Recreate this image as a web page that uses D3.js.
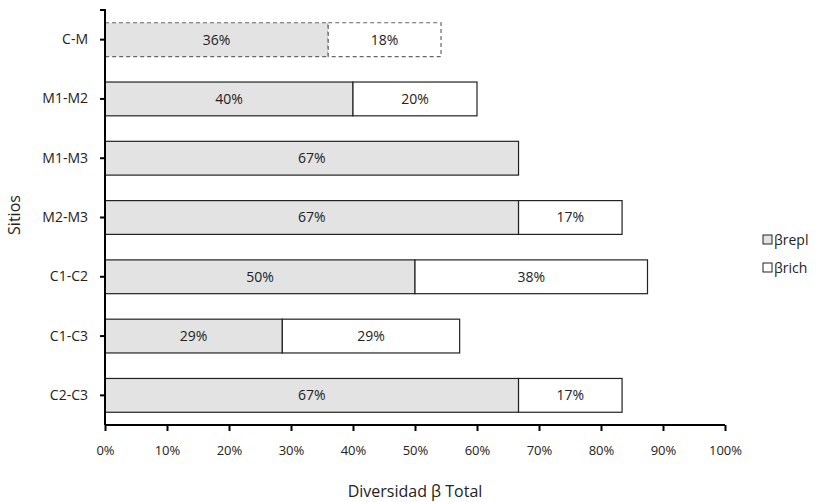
<!DOCTYPE html>
<html>
<head>
<meta charset="utf-8">
<script src="https://cdn.jsdelivr.net/npm/d3@7"></script>
<style>
  body { margin: 0; background: #fff; }
  text { font-family: "Open Sans", "Noto Sans", sans-serif; fill: #222; }
</style>
</head>
<body>
<script>
var WIDTH = 829;
var HEIGHT = 502;

// data
var sitios = ["C-M", "M1-M2", "M1-M3", "M2-M3", "C1-C2", "C1-C3", "C2-C3"];
var repl = [36, 40, 66.7, 66.7, 50, 28.6, 66.7];
var rich = [18.2, 20, 0, 16.7, 37.5, 28.6, 16.7];
var xTicks = [0, 10, 20, 30, 40, 50, 60, 70, 80, 90, 100];
var seriesNames = ["\u03b2repl", "\u03b2rich"];

var svg = d3.select("body")
  .append("svg")
  .attr("width", WIDTH)
  .attr("height", HEIGHT);

var x = d3.scaleLinear().domain([0, 100]).range([105, 725]);
var y = d3.scaleBand().domain(sitios).range([10, 425]).paddingInner(0.43).paddingOuter(0.215);

var rows = sitios.map(function (s, i) {
  return { name: s, repl: repl[i], rich: rich[i], dashed: i === 0 };
});

var fmt = function (v) { return Math.round(v) + "%"; };

var g = svg.selectAll("g.row")
  .data(rows)
  .enter()
  .append("g")
  .attr("class", "row");

// repl segment
g.append("rect")
  .attr("x", x(0))
  .attr("y", function (d) { return y(d.name); })
  .attr("width", function (d) { return x(d.repl) - x(0); })
  .attr("height", y.bandwidth())
  .attr("fill", "#e3e3e3")
  .attr("stroke", function (d) { return d.dashed ? "#666" : "#222"; })
  .attr("stroke-width", 1.2)
  .attr("stroke-dasharray", function (d) { return d.dashed ? "4,3" : null; });

// rich segment
g.filter(function (d) { return d.rich > 0; })
  .append("rect")
  .attr("x", function (d) { return x(d.repl); })
  .attr("y", function (d) { return y(d.name); })
  .attr("width", function (d) { return x(d.repl + d.rich) - x(d.repl); })
  .attr("height", y.bandwidth())
  .attr("fill", "#fff")
  .attr("stroke", function (d) { return d.dashed ? "#666" : "#222"; })
  .attr("stroke-width", 1.2)
  .attr("stroke-dasharray", function (d) { return d.dashed ? "4,3" : null; });

// labels
g.append("text")
  .attr("x", function (d) { return (x(0) + x(d.repl)) / 2; })
  .attr("y", function (d) { return y(d.name) + y.bandwidth() / 2; })
  .attr("dy", "0.35em")
  .attr("text-anchor", "middle")
  .style("font-size", "14px")
  .text(function (d) { return fmt(d.repl); });

g.filter(function (d) { return d.rich > 0; })
  .append("text")
  .attr("x", function (d) { return (x(d.repl) + x(d.repl + d.rich)) / 2; })
  .attr("y", function (d) { return y(d.name) + y.bandwidth() / 2; })
  .attr("dy", "0.35em")
  .attr("text-anchor", "middle")
  .style("font-size", "14px")
  .text(function (d) { return fmt(d.rich); });

// x axis
var xAxis = svg.append("g")
  .attr("transform", "translate(0,425)")
  .call(d3.axisBottom(x).tickValues(xTicks).tickSize(6).tickPadding(15)
    .tickFormat(function (d) { return d + "%"; }));
xAxis.select(".domain").attr("d", "M" + x(0) + ",0H" + x(100)).attr("stroke", "#000").attr("stroke-width", 2);
xAxis.selectAll(".tick line").attr("stroke", "#000").attr("stroke-width", 2);
xAxis.selectAll("text").style("font-size", "13px").attr("fill", "#222");

// y axis
var yAxis = svg.append("g")
  .attr("transform", "translate(105,0)")
  .call(d3.axisLeft(y).tickSize(5).tickPadding(12));
yAxis.select(".domain").attr("d", "M0,9V425").attr("stroke", "#000").attr("stroke-width", 2);
yAxis.selectAll(".tick line").attr("stroke", "#000").attr("stroke-width", 2);
yAxis.selectAll("text").style("font-size", "14px").attr("fill", "#222");
yAxis.append("line").attr("x1", -5).attr("x2", 0).attr("y1", 10).attr("y2", 10)
  .attr("stroke", "#000").attr("stroke-width", 2);

// axis titles
svg.append("text")
  .attr("x", 415)
  .attr("y", 497)
  .attr("text-anchor", "middle")
  .style("font-size", "16px")
  .text("Diversidad \u03b2 Total");

svg.append("text")
  .attr("transform", "translate(20,215) rotate(-90)")
  .attr("text-anchor", "middle")
  .style("font-size", "16px")
  .text("Sitios");

// legend
var legend = svg.selectAll("g.legend")
  .data(seriesNames)
  .enter()
  .append("g")
  .attr("class", "legend")
  .attr("transform", function (d, i) { return "translate(763," + (235 + i * 28) + ")"; });

legend.append("rect")
  .attr("width", 9)
  .attr("height", 9)
  .attr("fill", function (d, i) { return i === 0 ? "#e3e3e3" : "#fff"; })
  .attr("stroke", "#222");

legend.append("text")
  .attr("x", 11)
  .attr("y", 5)
  .attr("dy", "0.35em")
  .style("font-size", "14px")
  .text(function (d) { return d; });
</script>
</body>
</html>
